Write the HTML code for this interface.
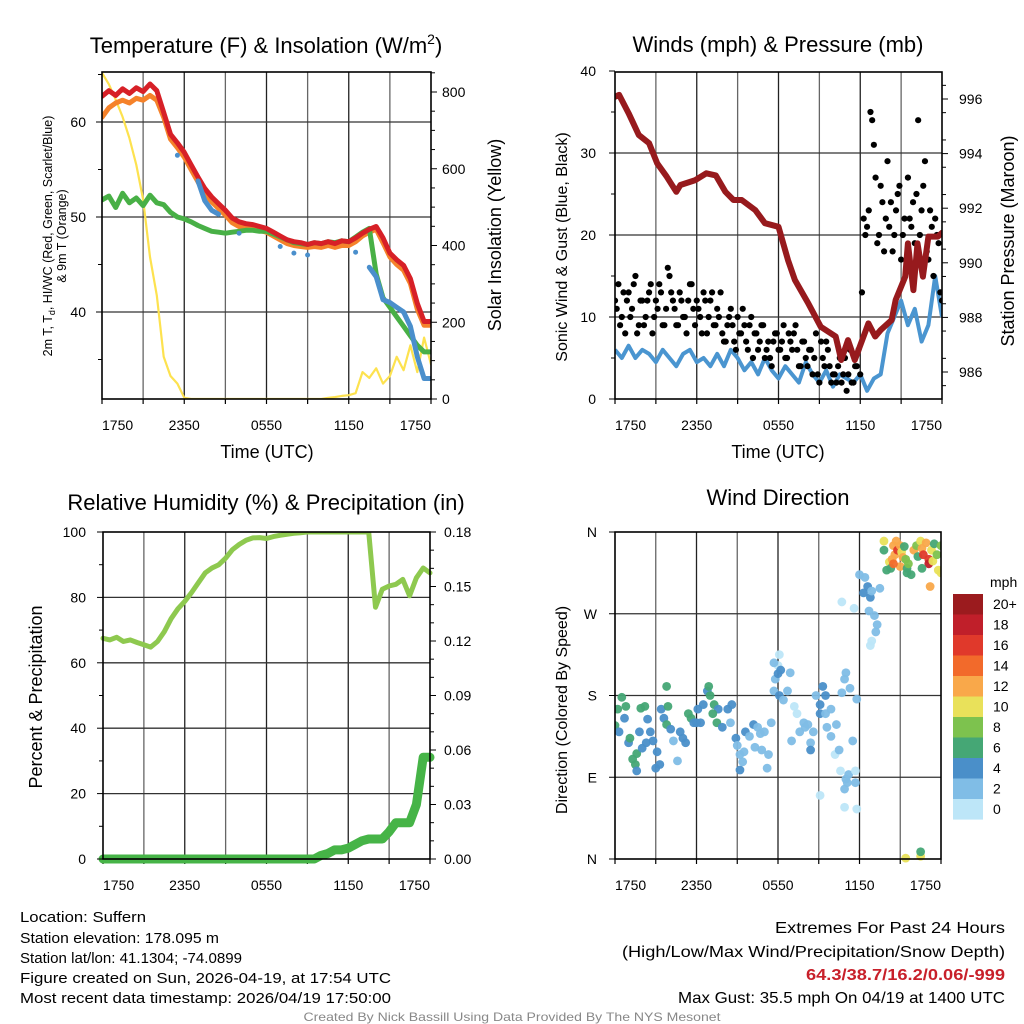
<!DOCTYPE html>
<html><head><meta charset="utf-8"><title>Suffern Meteogram</title>
<style>
html,body{margin:0;padding:0;background:#fff;}
svg{display:block;font-family:"Liberation Sans",Arial,sans-serif;}
</style></head>
<body>
<svg id="chart" width="1024" height="1024" viewBox="0 0 1024 1024" xmlns="http://www.w3.org/2000/svg"></svg>
<script>
// ---------- DATA (half-hourly, t = 0..24 h from 17:50 UTC) ----------
const timeLabels = ["1750","2350","0550","1150","1750"];
const tempRed = [62.7,63.3,62.8,63.5,63.0,63.6,63.2,64.0,63.3,61.0,58.7,57.8,56.8,55.5,54.2,53.0,52.1,51.4,50.7,49.9,49.5,49.3,49.2,49.0,48.8,48.4,48.0,47.6,47.4,47.3,47.1,47.3,47.2,47.4,47.2,47.5,47.4,47.8,48.3,48.7,49.0,47.8,46.2,45.5,44.9,43.5,40.9,39.0,39.0];
const temp9m = [60.5,61.5,62.0,62.3,62.0,62.5,62.3,62.8,62.3,60.5,58.2,57.3,56.3,55.0,53.7,52.5,51.6,50.9,50.2,49.4,49.0,48.9,48.8,48.6,48.4,48.0,47.6,47.2,47.0,46.9,46.8,46.9,46.8,47.0,46.8,47.0,47.0,47.4,48.0,48.4,48.7,47.3,45.8,45.0,44.4,43.0,40.3,38.6,38.6];
const dewpoint = [51.8,52.2,51.0,52.5,51.5,52.0,51.2,52.3,51.5,51.3,50.5,50.0,49.8,49.5,49.1,48.8,48.5,48.4,48.3,48.4,48.5,48.6,48.6,48.5,48.5,48.2,47.9,47.6,47.3,47.2,47.1,47.3,47.2,47.4,47.3,47.5,47.4,47.9,48.4,48.8,44.0,41.5,40.5,39.5,38.5,37.5,36.5,35.8,35.8];
const hiwc = [null,null,null,null,null,null,null,null,null,null,null,56.5,null,null,53.8,51.7,50.7,50.3,null,null,48.3,null,null,null,null,null,46.9,null,46.2,null,46.0,null,null,null,null,null,null,46.3,null,44.7,43.7,41.3,41.0,40.5,40.0,38.5,35.3,33.0,33.0];
const insolation = [850,820,780,735,680,610,520,370,270,110,60,40,3,0,0,0,0,0,0,0,0,0,0,0,0,0,0,0,0,0,0,0,0,3,5,8,10,15,70,55,80,40,60,110,75,140,70,160,90];
const windSpeed = [6,5,6.5,5,6,5.5,4.5,6,5,4,5.5,6,4.5,5,4,5.5,4,6,5,3.5,4.5,3,5,3.5,2.5,4,3,2,4.5,3,2,3.5,1.5,3,2.5,2,3,1,2.5,3,8,10,12,9,11,7,9,15,10];
const windGust = [12,14,10,8,13,11,15,9,12,10,13,8,12,14,9,11,15,12,9,13,10,8,14,11,12,10,13,8,12,9,11,13,7,9,11,7,10,8,9,6,10,8,6,9,5,7,4,8,6,7,5,8,6,9,4,7,5,6,3,8,2,5,7,4,3,2,5,3,1,6,2,4,3,22,21,35,31,19,26,18,29,24,20,25,17,22,27,21,19,34,23,29,17,21,22,19,12];
const windGust2 = [11,9,13,12,10,14,8,12,9,12,14,10,11,13,9,16,13,11,9,12,10,12,14,9,11,8,12,10,13,9,10,8,7,10,9,6,8,11,7,9,5,8,7,9,6,5,7,8,6,9,5,7,8,6,4,7,4,6,5,3,7,4,6,2,3,4,2,5,3,2,4,6,13,20,23,34,27,20,24,22,21,18,23,26,20,16,22,24,25,20,26,18,23,15,20,13];
const pressT = [0,0.3,1.0,1.75,2.5,3.1,3.8,4.5,4.8,5.9,6.7,7.4,8.1,8.7,9.3,10.3,11.0,12.0,12.7,13.2,14.2,15.1,16.2,16.6,17.1,17.6,18.6,19.1,19.5,20.3,20.6,21.3,21.5,21.9,22.2,22.6,23.0,23.7,24.0];
const pressure = [996.08,996.15,995.48,994.68,994.38,993.64,993.15,992.6,992.85,993.03,993.28,993.2,992.6,992.3,992.3,991.93,991.45,991.32,990.1,989.37,988.5,987.66,987.3,986.44,987.17,986.44,987.78,987.3,987.54,987.9,988.64,989.49,990.71,989.0,990.71,989.49,990.96,990.96,991.1];
const rh = [67.5,67.0,67.8,66.5,67.0,66.2,65.5,64.8,66.5,69.5,73.5,76.5,78.8,81.5,84.5,87.5,89.0,90.0,92.0,94.6,96.2,97.5,98.2,98.3,98.0,98.6,99.0,99.3,99.6,99.8,100,100,100,100,100,100,100,100,100,100,77,82.5,83.5,84,85.5,80.5,86,89,87.5];
const precip = [0,0,0,0,0,0,0,0,0,0,0,0,0,0,0,0,0,0,0,0,0,0,0,0,0,0,0,0,0,0,0,0,0.002,0.003,0.005,0.005,0.006,0.008,0.01,0.011,0.011,0.011,0.015,0.02,0.02,0.02,0.03,0.056,0.056];
const dirT = [0.0,0.2,0.5,0.8,0.3,0.7,1.0,1.1,1.3,1.6,1.5,1.6,1.8,2.0,2.3,2.4,1.9,2.2,2.6,2.8,3.0,3.1,3.3,3.4,3.6,3.8,3.9,3.8,4.1,4.3,4.6,4.8,5.0,5.2,5.4,5.6,5.8,6.0,6.1,6.3,6.5,6.8,6.9,7.0,7.3,7.6,7.2,7.5,7.9,8.3,8.5,8.6,8.9,9.0,9.2,9.4,9.5,9.2,9.6,9.9,10.2,10.5,10.3,10.7,10.8,11.3,11.2,11.0,11.5,11.7,11.8,12.0,12.1,11.7,12.0,12.2,12.1,12.4,12.7,12.9,13.0,13.2,13.4,13.6,13.9,14.0,14.2,14.4,14.4,14.6,14.8,15.1,15.1,15.3,15.5,15.5,15.6,15.9,15.9,16.3,16.2,16.5,16.7,16.9,17.0,17.3,17.5,16.6,17.2,17.0,17.1,16.9,17.7,17.7,17.8,15.1,16.9,17.8,19.3,19.2,19.1,16.7,17.6,18.0,18.4,18.3,18.6,18.8,18.9,19.5,18.7,18.8,18.9,19.8,19.8,20.0,20.2,20.3,20.4,20.6,20.5,20.7,20.8,21.0,21.1,21.2,21.0,21.4,21.5,21.5,21.6,21.8,22.0,22.2,22.3,22.5,22.6,22.7,22.9,23.1,23.1,23.3,23.4,23.5,23.7,23.8,24.0,23.2,22.6,24.0,20.5,21.3,21.4,22.5,22.5];
const dirDeg = [147,165,178,168,140,155,128,133,110,116,104,97,140,122,128,154,166,168,140,130,100,118,104,165,155,148,168,190,143,130,108,140,133,128,160,155,150,150,165,150,170,185,190,180,170,165,160,150,145,165,150,170,133,125,115,107,118,98,140,135,148,145,123,138,120,115,100,140,150,185,198,213,225,216,204,208,180,175,185,205,130,168,160,140,150,145,148,128,120,140,180,160,170,190,180,160,145,165,135,148,115,120,183,198,205,188,130,97,93,88,84,77,97,84,55,70,57,176,258,250,268,283,276,313,310,293,300,288,295,298,273,235,240,350,340,318,327,320,330,335,345,350,340,345,338,332,322,330,320,315,325,313,340,345,333,350,342,335,348,330,325,340,328,347,335,318,315,300,320,345,325,344,1,3,8];
const dirSpd = [7,7,7,7,5,5,5,7,7,7,7,5,5,5,5,5,7,7,5,5,5,5,5,5,5,7,7,7,5,3,3,5,5,5,7,7,5,5,5,5,5,5,7,7,7,5,7,7,5,5,3,5,5,3,3,3,3,5,5,3,5,3,3,3,3,3,2,3,3,3,3,1,1,3,5,5,5,3,3,3,3,1,1,3,3,3,3,3,5,3,3,5,5,5,5,3,3,3,3,3,1,3,3,3,3,3,3,1,3,3,3,3,1,3,1,1,1,3,3,3,3,1,1,3,3,5,5,5,3,3,3,1,1,10,7,7,10,7,12,12,12,12,16,12,10,12,12,9,7,7,9,7,12,9,7,10,12,16,12,16,18,10,10,7,9,10,10,13,7,8,14,7,10,11,7];
const speedBins = ["20+","18","16","14","12","10","8","6","4","2","0"];
const speedColors = ["#9b1b1e","#c01f2a","#e0392b","#f26a2b","#f9a84a","#e9e15a","#7dc24e","#45a775","#4a8fc9","#80bde6","#bde6f8"];

// ---------- helpers ----------
const NS="http://www.w3.org/2000/svg";
const svg=document.getElementById('chart');
function el(tag,attrs,parent){const e=document.createElementNS(NS,tag);for(const k in attrs)e.setAttribute(k,attrs[k]);(parent||svg).appendChild(e);return e;}
function txt(s,attrs,parent){const e=el('text',attrs,parent);e.textContent=s;return e;}
function lin(d0,d1,r0,r1){return v=>r0+(v-d0)*(r1-r0)/(d1-d0);}
const tHalf=i=>i*0.5;

function panelFrame(name,X0,X1,Y0,Y1,yGrid){
  const g=el('g',{});
  
  
  const xs=lin(0,24,X0,X1);
  for(let h=3;h<24;h+=3){const l=el('line',{x1:xs(h),x2:xs(h),y1:Y0,y2:Y1,stroke:(h%6===0)?'#222':'#666','stroke-width':1.3},g);
    }
  yGrid.forEach(y=>{const l=el('line',{x1:X0,x2:X1,y1:y,y2:y,stroke:'#333','stroke-width':1.3},g);
    });
  for(let h=0;h<=24;h+=3){el('line',{x1:xs(h),x2:xs(h),y1:Y1,y2:Y1+5,stroke:'#000','stroke-width':1.2},g);}
  const ticks=[0,6,12,18,24];
  ticks.forEach((h,i)=>{
    const anchor=i===0?'start':(i===4?'end':'middle');
    const t=txt(timeLabels[i],{x:xs(h),y:Y1+31,'font-size':14,'text-anchor':anchor},g);
    
  });
  return {g,xs};
}
function frameBorder(X0,X1,Y0,Y1,g){
  const r=el('rect',{x:X0,y:Y0,width:X1-X0,height:Y1-Y0,fill:'none',stroke:'#000','stroke-width':1.6},g);
  
}
function pathFrom(vals,xf,yf,tf){let d='',pen=false;
  vals.forEach((v,i)=>{if(v===null){pen=false;return;}const x=xf(tf(i)),y=yf(v);d+=(pen?'L':'M')+x.toFixed(1)+' '+y.toFixed(1)+' ';if(!pen&&(i+1>=vals.length||vals[i+1]===null))d+='L'+x.toFixed(1)+' '+y.toFixed(1)+' ';pen=true;});return d;}
function clipRect(id,X0,X1,Y0,Y1){const cp=el('clipPath',{id});el('rect',{x:X0,y:Y0,width:X1-X0,height:Y1-Y0},cp);}

// ---------- PANEL 1 ----------
(function(){
  const X0=102,X1=431,Y0=72,Y1=399;
  const yT=lin(40,60,312,122), yS=lin(0,800,399,92);
  const {g,xs}=panelFrame('temperature-panel',X0,X1,Y0,Y1,[yT(60),yT(50),yT(40)]);
  clipRect('c1',X0,X1,Y0,Y1);
  const series=[['insolation-line',insolation,yS,'#fde24f',2.2],['temp-9m-line',temp9m,yT,'#f5822a',5],['dewpoint-line',dewpoint,yT,'#48b046',5],['temp-2m-line',tempRed,yT,'#d72027',5],['heat-index-windchill-line',hiwc,yT,'#4a8fcc',5]];
  series.forEach(s=>{const p=el('path',{d:pathFrom(s[1],xs,s[2],tHalf),fill:'none',stroke:s[3],'stroke-width':s[4],'stroke-linejoin':'round','stroke-linecap':'round','clip-path':'url(#c1)'},g);
    });
  frameBorder(X0,X1,Y0,Y1,g);
  [35,40,45,50,55,60,65].forEach(v=>{const y=yT(v);if(y<Y0||y>Y1)return;el('line',{x1:X0-(v%10?4:6),x2:X0,y1:y,y2:y,stroke:'#000'},g);
    if(v%10===0){const t=txt(String(v),{x:X0-16,y:y+5,'font-size':14,'text-anchor':'end'},g);}});
  for(let v=0;v<=850;v+=50){const y=yS(v);if(y<Y0)continue;el('line',{x1:X1,x2:X1+(v%200?4:6),y1:y,y2:y,stroke:'#000'},g);
    if(v%200===0){const t=txt(String(v),{x:X1+11,y:y+5,'font-size':14},g);}}
  const ti=txt('',{x:266,y:53,'font-size':22,'text-anchor':'middle'},g);
  ti.innerHTML='Temperature (F) &amp; Insolation (W/m<tspan dy="-9" font-size="14">2</tspan><tspan dy="9">)</tspan>';
  
  const xt=txt('Time (UTC)',{x:267,y:458,'font-size':18,'text-anchor':'middle'},g);
  const yt=el('text',{transform:'translate(52,236) rotate(-90)','font-size':12.5,'text-anchor':'middle'},g);
  yt.innerHTML='2m T, T<tspan dy="3" font-size="9">d</tspan><tspan dy="-3">, HI/WC (Red, Green, Scarlet/Blue)</tspan>';
  
  const yt2=txt('& 9m T (Orange)',{transform:'translate(66,236) rotate(-90)','font-size':12.5,'text-anchor':'middle'},g);
  
  const rt=txt('Solar Insolation (Yellow)',{transform:'translate(501,235) rotate(-90)','font-size':18,'text-anchor':'middle'},g);
  
})();

// ---------- PANEL 2 ----------
(function(){
  const X0=615,X1=942,Y0=72,Y1=399;
  const yW=lin(0,40,399,71), yP=lin(986,996,372,99);
  const {g,xs}=panelFrame('winds-panel',X0,X1,Y0,Y1,[yW(10),yW(20),yW(30)]);
  clipRect('c2',X0,X1,Y0,Y1);
  const w=el('path',{d:pathFrom(windSpeed,xs,yW,tHalf),fill:'none',stroke:'#4a95d0','stroke-width':4,'stroke-linejoin':'round','clip-path':'url(#c2)'},g);
  
  windGust.forEach((v,i)=>{const c=el('circle',{cx:xs(i*0.25),cy:yW(v),r:3.1,fill:'#000','clip-path':'url(#c2)'},g);
    });
  windGust2.forEach((v,i)=>{const c=el('circle',{cx:xs(0.125+i*0.25),cy:yW(v),r:3.1,fill:'#000','clip-path':'url(#c2)'},g);
    });
  const p=el('path',{d:pathFrom(pressure,xs,yP,i=>pressT[i]),fill:'none',stroke:'#971a1d','stroke-width':6,'stroke-linejoin':'round','stroke-linecap':'round','clip-path':'url(#c2)'},g);
  
  frameBorder(X0,X1,Y0,Y1,g);
  for(let v=0;v<=40;v+=5){const y=yW(v);el('line',{x1:X0-(v%10?4:6),x2:X0,y1:y,y2:y,stroke:'#000'},g);
    if(v%10===0){const t=txt(String(v),{x:X0-19,y:y+5,'font-size':14,'text-anchor':'end'},g);}}
  for(let v=985.5;v<=997;v+=1){const y=yP(v);if(y<Y0||y>Y1)continue;el('line',{x1:X1,x2:X1+(v%2===0?6:4),y1:y,y2:y,stroke:'#000'},g);}
  for(let v=986;v<=996;v+=2){const y=yP(v);el('line',{x1:X1,x2:X1+6,y1:y,y2:y,stroke:'#000'},g);
    const t=txt(String(v),{x:X1+17,y:y+5,'font-size':14},g);}
  const ti=txt('Winds (mph) & Pressure (mb)',{x:778,y:52,'font-size':22,'text-anchor':'middle'},g);
  const xt=txt('Time (UTC)',{x:778,y:458,'font-size':18,'text-anchor':'middle'},g);
  const yt=txt('Sonic Wind & Gust (Blue, Black)',{transform:'translate(567,247) rotate(-90)','font-size':16,'text-anchor':'middle'},g);
  const rt=txt('Station Pressure (Maroon)',{transform:'translate(1014,241) rotate(-90)','font-size':18,'text-anchor':'middle'},g);
})();

// ---------- PANEL 3 ----------
(function(){
  const X0=103,X1=430,Y0=532,Y1=859;
  const yR=lin(0,100,859,532), yPr=lin(0,0.18,859,532);
  const {g,xs}=panelFrame('humidity-panel',X0,X1,Y0,Y1,[yR(20),yR(40),yR(60),yR(80)]);
  clipRect('c3',X0-6,X1+6,Y0,Y1+6);
  const r=el('path',{d:pathFrom(rh,xs,yR,tHalf),fill:'none',stroke:'#8ec94f','stroke-width':5,'stroke-linejoin':'round','stroke-linecap':'round','clip-path':'url(#c3)'},g);
  
  const pr=el('path',{d:pathFrom(precip,xs,yPr,tHalf),fill:'none',stroke:'#46b447','stroke-width':9,'stroke-linejoin':'round','stroke-linecap':'round','clip-path':'url(#c3)'},g);
  
  frameBorder(X0,X1,Y0,Y1,g);
  for(let v=0;v<=100;v+=10){const y=yR(v);el('line',{x1:X0-(v%20?4:6),x2:X0,y1:y,y2:y,stroke:'#000'},g);
    if(v%20===0){const t=txt(String(v),{x:X0-17,y:y+5,'font-size':14,'text-anchor':'end'},g);}}
  for(let k=0;k<=18;k++){const v=k/100,y=yPr(v);el('line',{x1:X1,x2:X1+(k%3?4:6),y1:y,y2:y,stroke:'#000'},g);
    if(k%3===0){const t=txt(v.toFixed(2),{x:X1+14,y:y+5,'font-size':14},g);}}
  const ti=txt('Relative Humidity (%) & Precipitation (in)',{x:266,y:510,'font-size':22,'text-anchor':'middle'},g);
  const yt=txt('Percent & Precipitation',{transform:'translate(42,697) rotate(-90)','font-size':18,'text-anchor':'middle'},g);
})();

// ---------- PANEL 4 ----------
(function(){
  const X0=615,X1=941,Y0=532,Y1=859;
  const yD=lin(0,360,859,532);
  const {g,xs}=panelFrame('wind-direction-panel',X0,X1,Y0,Y1,[yD(90),yD(180),yD(270)]);
  clipRect('c4',X0,X1,Y0-5,Y1+5);
  function colorFor(s){const idx=Math.min(10,Math.floor(s/2));return speedColors[10-idx];}
  dirT.forEach((t,i)=>{const c=el('circle',{cx:xs(t),cy:yD(dirDeg[i]),r:4.4,fill:colorFor(dirSpd[i]),'fill-opacity':0.95,'clip-path':'url(#c4)'},g);
    });
  frameBorder(X0,X1,Y0,Y1,g);
  const labs=['N','E','S','W','N'];
  [0,90,180,270,360].forEach((d,i)=>{const y=yD(d);el('line',{x1:X0-6,x2:X0,y1:y,y2:y,stroke:'#000'},g);
    const t=txt(labs[i],{x:X0-18,y:y+5,'font-size':14,'text-anchor':'end'},g);});
  const ti=txt('Wind Direction',{x:778,y:505,'font-size':22,'text-anchor':'middle'},g);
  const yt=txt('Direction (Colored By Speed)',{transform:'translate(567,710) rotate(-90)','font-size':16,'text-anchor':'middle'},g);
  const cb=el('g',{},g);
  
  const cbt=txt('mph',{x:990,y:587,'font-size':14},cb);
  speedBins.forEach((lab,i)=>{const y=594+i*20.5;
    const r=el('rect',{x:953,y:y,width:30,height:20.6,fill:speedColors[i]},cb);
    const t=txt(lab,{x:993,y:y+15,'font-size':14},cb);});
})();

// ---------- FOOTER ----------
(function(){
  const g=el('g',{});
  
  const left=[['Location: Suffern',922,126],['Station elevation: 178.095 m',943,199],['Station lat/lon: 41.1304; -74.0899',963,222],['Figure created on Sun, 2026-04-19, at 17:54 UTC',983,371],['Most recent data timestamp: 2026/04/19 17:50:00',1003,371]];
  left.forEach(l=>{const t=txt(l[0],{x:20,y:l[1],'font-size':15,textLength:l[2],lengthAdjust:'spacingAndGlyphs'},g);});
  const right=[['Extremes For Past 24 Hours',933,'#000','normal',230],['(High/Low/Max Wind/Precipitation/Snow Depth)',957,'#000','normal',383],['64.3/38.7/16.2/0.06/-999',980,'#c8202a','bold',199],['Max Gust: 35.5 mph On 04/19 at 1400 UTC',1003,'#000','normal',327]];
  right.forEach(l=>{const t=txt(l[0],{x:1005,y:l[1],'font-size':16,fill:l[2],'font-weight':l[3],'text-anchor':'end',textLength:l[4],lengthAdjust:'spacingAndGlyphs'},g);});
  const c=txt('Created By Nick Bassill Using Data Provided By The NYS Mesonet',{x:512,y:1021,'font-size':12,fill:'#888','text-anchor':'middle',textLength:417,lengthAdjust:'spacingAndGlyphs'},g);
  
})();
</script>
</body></html>
